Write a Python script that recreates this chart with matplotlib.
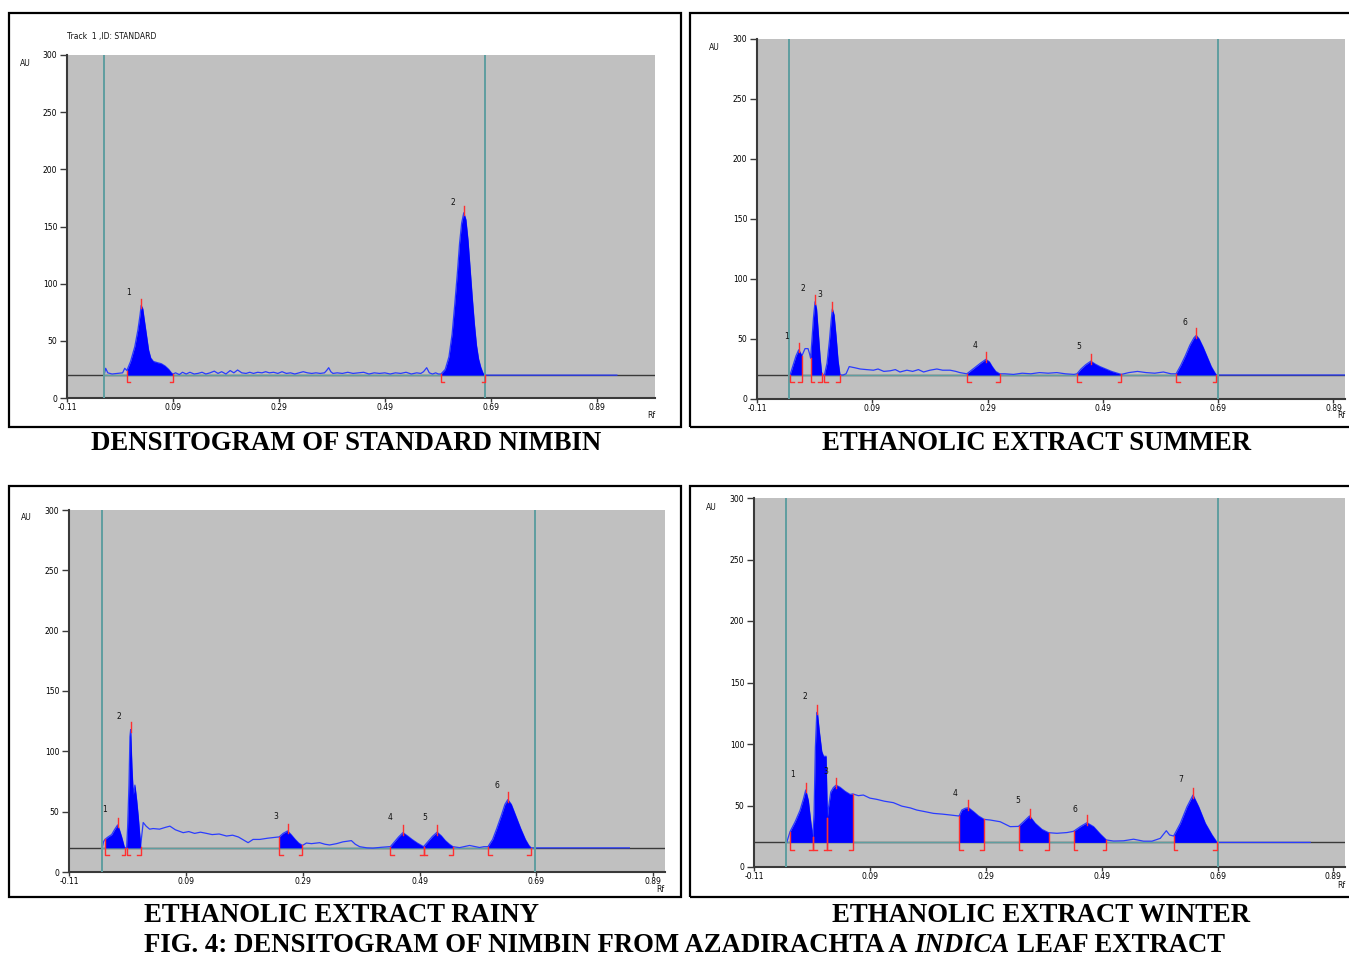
import numpy as np
import matplotlib
matplotlib.use("Agg")
import matplotlib.pyplot as plt
from matplotlib.patches import Rectangle

# ------------------------------------------------------------------ data
Y_TICKS = [0, 50, 100, 150, 200, 250, 300]
X_TICKS = [-0.11, 0.09, 0.29, 0.49, 0.69, 0.89]
X_TICK_LABELS = ["-0.11", "0.09", "0.29", "0.49", "0.69", "0.89"]

CAPTIONS = ["DENSITOGRAM OF STANDARD NIMBIN", "ETHANOLIC EXTRACT SUMMER",
            "ETHANOLIC EXTRACT RAINY", "ETHANOLIC EXTRACT WINTER"]
FIG_CAPTION = ["FIG. 4: DENSITOGRAM OF NIMBIN FROM AZADIRACHTA A", "INDICA", "LEAF EXTRACT"]
TRACK_TITLE = "Track  1 ,ID: STANDARD"

# Standard nimbin
STD_RF = [-0.040, -0.037, -0.033, -0.025, -0.015, -0.005, -0.001, 0.003, 0.010, 0.018, 0.024,
          0.028, 0.030, 0.033, 0.036, 0.040, 0.044, 0.048, 0.053, 0.060, 0.068, 0.075, 0.082,
          0.087, 0.090, 0.095, 0.102, 0.108, 0.115, 0.122, 0.130, 0.137, 0.145, 0.152, 0.160,
          0.168, 0.175, 0.182, 0.190, 0.198, 0.205, 0.212, 0.220, 0.228, 0.235, 0.242, 0.250,
          0.258, 0.265, 0.272, 0.280, 0.288, 0.296, 0.304, 0.312, 0.320, 0.328, 0.336, 0.344,
          0.352, 0.360, 0.368, 0.376, 0.380, 0.384, 0.388, 0.392, 0.400, 0.410, 0.420, 0.430,
          0.440, 0.450, 0.460, 0.470, 0.480, 0.490, 0.500, 0.510, 0.520, 0.530, 0.540, 0.550,
          0.558, 0.563, 0.569, 0.574, 0.580, 0.586, 0.591, 0.596, 0.604, 0.611, 0.617, 0.622,
          0.627, 0.631, 0.635, 0.639, 0.643, 0.647, 0.651, 0.655, 0.659, 0.663, 0.667, 0.671,
          0.675, 0.679, 0.700, 0.928]
STD_AU = [20, 26, 22, 21, 21.5, 22, 26, 24, 32, 45, 60,
          73, 81, 78, 68, 55, 42, 35, 32, 31, 30, 28, 25,
          22, 21, 22, 20.5, 22.5, 21, 22.5, 21, 21.5, 22.5, 21, 22,
          23.5, 21.5, 23, 21, 24, 22, 24.5, 22, 21.5, 22.5, 21.5, 22.5,
          22, 23, 22, 22.5, 21.5, 23, 21.5, 22, 21, 22, 23, 22,
          21.5, 22, 21.5, 22, 24, 26.5, 23, 21.5, 22, 21.5, 22.5, 21.5,
          22, 22.5, 21, 22, 21.5, 22, 21, 22, 21.5, 22.5, 21, 22,
          21.5, 23, 26.5, 22, 21, 22, 21, 21, 25, 36, 56, 82,
          110, 135, 153, 162, 156, 138, 113, 88, 65, 46, 34, 27,
          22, 20, 20, 20]
STD_PEAKS = [(0.003, 0.090, 0.030), (0.596, 0.679, 0.639)]
STD_LABELS = [("1", 0.007, 92), ("2", 0.618, 171)]
STD_LINES = [-0.040, 0.680]

# Summer
SUM_RF = [-0.054, -0.0527, -0.0475, -0.0423, -0.0376, -0.0353, -0.032, -0.0267, -0.0215, -0.019,
          -0.017, -0.0146, -0.012, -0.0093, -0.0067, -0.0041, -0.0006, 0.002, 0.0045, 0.007,
          0.0115, 0.0159, 0.0185, 0.0207, 0.0237, 0.0272, 0.0306, 0.034, 0.0393, 0.0445, 0.050,
          0.060, 0.069, 0.080, 0.092, 0.100, 0.110, 0.121, 0.130, 0.138, 0.150, 0.160, 0.170,
          0.179, 0.190, 0.202, 0.212, 0.225, 0.235, 0.242, 0.254, 0.262, 0.270, 0.278, 0.287,
          0.293, 0.298, 0.304, 0.311, 0.320, 0.335, 0.350, 0.365, 0.380, 0.395, 0.410, 0.425,
          0.440, 0.445, 0.452, 0.460, 0.469, 0.477, 0.485, 0.495, 0.505, 0.515, 0.522, 0.535,
          0.550, 0.565, 0.580, 0.595, 0.608, 0.617, 0.625, 0.633, 0.641, 0.648, 0.652, 0.657,
          0.664, 0.671, 0.678, 0.684, 0.687, 0.700, 0.910]
SUM_AU = [20, 20, 28, 36, 41, 39, 36, 42, 42, 38,
          34, 50, 68, 81, 75, 58, 35, 22, 20, 20,
          30, 50, 65, 75, 70, 52, 32, 20, 20, 21, 27,
          26, 25, 24.5, 24, 25, 23, 23.5, 24.5, 22.5, 24, 23, 24.5,
          22.5, 24, 25, 24, 24, 23, 22, 21, 24, 27, 30, 33,
          31, 27, 23, 21, 21, 20.5, 21.5, 21, 22, 21.5, 22, 21,
          20.5, 21, 25, 28.5, 31.5, 29, 27, 25, 23, 21.5, 20.5, 22,
          23, 22, 21.5, 22.5, 21, 21, 28, 36, 45, 51, 53, 50,
          43, 35, 27, 22, 20, 20, 20]
SUM_PEAKS = [(-0.0527, -0.032, -0.0376), (-0.017, 0.002, -0.0093), (0.007, 0.034, 0.0207),
             (0.254, 0.311, 0.287), (0.445, 0.522, 0.469), (0.617, 0.687, 0.652)]
SUM_LABELS = [("1", -0.058, 52), ("2", -0.030, 92), ("3", -0.001, 87), ("4", 0.268, 45),
              ("5", 0.449, 44), ("6", 0.633, 64)]
SUM_LINES = [-0.054, 0.689]

# Rainy
RAIN_RF = [-0.053, -0.051, -0.0485, -0.0433, -0.037, -0.0322, -0.0268, -0.0237, -0.0199, -0.0155,
           -0.0134, -0.0114, -0.0097, -0.0074, -0.0057, -0.0045, -0.0023, 0.0, 0.0028, 0.0057,
           0.0085, 0.0114, 0.0126, 0.014, 0.017, 0.022, 0.028, 0.034, 0.045, 0.055, 0.0627,
           0.072, 0.0854, 0.095, 0.105, 0.115, 0.1254, 0.135, 0.147, 0.1596, 0.170, 0.180,
           0.1965, 0.205, 0.2165, 0.230, 0.2478, 0.2495, 0.2565, 0.264, 0.270, 0.277, 0.283,
           0.2895, 0.2963, 0.305, 0.319, 0.328, 0.336, 0.348, 0.3589, 0.3733, 0.380, 0.3874,
           0.400, 0.4102, 0.425, 0.4387, 0.440, 0.447, 0.454, 0.4615, 0.469, 0.477, 0.486,
           0.4968, 0.504, 0.512, 0.520, 0.527, 0.534, 0.541, 0.547, 0.5584, 0.5755, 0.5926,
           0.600, 0.607, 0.615, 0.622, 0.630, 0.636, 0.641, 0.647, 0.655, 0.663, 0.671, 0.677,
           0.681, 0.700, 0.849]
RAIN_AU = [20, 25, 27, 29, 31, 35, 39, 35, 29, 21,
           20, 20, 37, 72, 112, 118, 87, 64, 72, 60,
           46, 29, 21, 28, 41, 38, 35.5, 36, 35.5, 37, 38,
           35, 32.6, 33.5, 32, 33, 32, 31, 31.5, 29.8, 30.5, 29,
           24.3, 27, 27, 28, 29, 29, 32, 34, 31, 27, 24,
           22, 24, 23.5, 24.3, 23, 22.4, 23.5, 25, 26, 23, 21,
           20, 19.8, 20.5, 21, 21, 25, 29, 32.6, 30, 27, 24,
           21, 25, 29.5, 33, 30, 26, 23, 21, 20.2, 22, 20.3,
           21, 21, 27, 36, 47, 56, 60, 56, 46, 36, 27, 22,
           20, 20, 20]
RAIN_PEAKS = [(-0.0485, -0.0134, -0.0268), (-0.0114, 0.0126, -0.0045), (0.2495, 0.2895, 0.264),
              (0.440, 0.4968, 0.4615), (0.4968, 0.547, 0.520), (0.607, 0.681, 0.641)]
RAIN_LABELS = [("1", -0.0485, 52), ("2", -0.0245, 129), ("3", 0.244, 46), ("4", 0.440, 45),
               ("5", 0.4986, 45), ("6", 0.623, 72)]
RAIN_LINES = [-0.054, 0.688]

# Winter
WIN_RF = [-0.0547, -0.0535, -0.0478, -0.0392, -0.0306, -0.0249, -0.0207, -0.0162, -0.0121, -0.0086,
          -0.0064, -0.0041, -0.0017, -0.0007, 0.0028, 0.0069, 0.010, 0.0144, 0.0166, 0.0183,
          0.0225, 0.027, 0.0316, 0.0385, 0.0472, 0.0558, 0.0605, 0.070, 0.0788, 0.090, 0.1019,
          0.115, 0.1306, 0.145, 0.160, 0.171, 0.185, 0.1997, 0.215, 0.2285, 0.2429, 0.2441,
          0.2487, 0.2544, 0.2601, 0.2688, 0.2774, 0.2872, 0.2976, 0.3149, 0.3321, 0.3465,
          0.3551, 0.3655, 0.3753, 0.3869, 0.3983, 0.4128, 0.4301, 0.4415, 0.4531, 0.4646,
          0.4760, 0.4876, 0.498, 0.5106, 0.5278, 0.5451, 0.5624, 0.5769, 0.5912, 0.6016,
          0.6073, 0.6142, 0.6258, 0.6373, 0.6477, 0.6574, 0.6689, 0.6805, 0.6891, 0.700, 0.850]
WIN_AU = [20, 20, 28.7, 36.6, 46, 55, 62.6, 54, 37, 24,
          43, 97, 125, 126, 110, 94, 90, 90, 40, 47.6,
          61, 64.6, 66.5, 64.8, 61.5, 59, 59.4, 58, 58.5, 56, 55,
          53.5, 52.3, 49.5, 48, 46.3, 45, 43.6, 43, 42.3, 41.5, 41.5,
          46.3, 47.7, 48.2, 45, 41.5, 38.7, 38.2, 36.8, 32.8, 33,
          36.8, 41.5, 35.5, 30.6, 27.9, 27.4, 28, 29, 32.8, 36,
          32.8, 26.8, 22, 21.1, 21.3, 22.6, 21, 21, 23.3, 29.5,
          26, 25.2, 35.5, 49, 58.5, 49, 35.5, 26, 20, 20, 20]
WIN_PEAKS = [(-0.0478, -0.0086, -0.0207), (-0.0086, 0.0166, -0.0007), (0.0166, 0.0605, 0.0316),
             (0.2441, 0.2872, 0.2601), (0.3465, 0.3983, 0.3655), (0.4415, 0.498, 0.4646),
             (0.6142, 0.6891, 0.6477)]
WIN_LABELS = [("1", -0.043, 75), ("2", -0.022, 139), ("3", 0.014, 78), ("4", 0.237, 60),
              ("5", 0.346, 54), ("6", 0.444, 47), ("7", 0.626, 71)]
WIN_LINES = [-0.055, 0.690]

BASELINE = 20

# ------------------------------------------------------------------ layout
W, H = 1349, 956
fig = plt.figure(figsize=(W / 100, H / 100), dpi=100)
fig.patch.set_facecolor("white")


def fx(x):
    return x / W


def fy(y):
    return 1 - y / H


TRACE_C = "#2a3cff"
FILL_C = "#0000ff"
TEAL = "#5f9ea0"
RED = "#ff3030"
DARK = "#3a3a3a"
SMALL = dict(family="DejaVu Sans", fontsize=5.5, color="#111111")


def panel(box, ax_px, xmax, rf, au, peaks, labels, lines,
          au_px, rf_px, title=None):
    x0, y0, x1, y1 = box
    fig.patches.append(Rectangle((fx(x0), fy(y1)), fx(x1 - x0), (y1 - y0) / H,
                                 transform=fig.transFigure, fill=False,
                                 edgecolor="black", lw=1.6, zorder=0))
    l, t, r, b = ax_px
    ax = fig.add_axes([fx(l), fy(b), fx(r - l), (b - t) / H])
    ax.set_facecolor("#c0c0c0")
    ax.set_xlim(-0.11, xmax)
    ax.set_ylim(0, 300)
    for s in ("top", "right"):
        ax.spines[s].set_visible(False)
    for s in ("left", "bottom"):
        ax.spines[s].set_color(DARK)
        ax.spines[s].set_linewidth(1.5)
    ax.set_yticks(Y_TICKS)
    ax.set_yticklabels([str(v) for v in Y_TICKS])
    ax.set_xticks(X_TICKS)
    ax.set_xticklabels(X_TICK_LABELS)
    ax.tick_params(axis="y", length=5, width=1, color=DARK, pad=2, labelsize=5.5)
    ax.tick_params(axis="x", length=3, width=1, color=DARK, pad=0.5, labelsize=5.5)

    rf = np.asarray(rf)
    au = np.asarray(au)
    # baselines
    ax.axhline(BASELINE, color=DARK, lw=1.0, zorder=1)
    ax.plot(lines, [BASELINE, BASELINE], color=TEAL, lw=0.9, zorder=2)
    # trace
    ax.plot(rf, au, color=TRACE_C, lw=0.9, zorder=3)
    # filled peaks
    for s, e, a in peaks:
        m = (rf >= s - 1e-9) & (rf <= e + 1e-9)
        ax.fill_between(rf[m], BASELINE, au[m], color=FILL_C, lw=0, zorder=4)
    # front / start lines
    for v in lines:
        ax.axvline(v, color=TEAL, lw=1.4, zorder=6)
    # red markers
    foot = 0.0065
    for s, e, a in peaks:
        ya = np.interp(a, rf, au)
        ax.plot([a, a], [ya - 2, ya + 6], color=RED, lw=1.0, zorder=7)
        ys = np.interp(s, rf, au)
        ax.plot([s, s, s + foot], [max(ys, BASELINE), BASELINE - 6, BASELINE - 6],
                color=RED, lw=1.0, zorder=7)
        ye = np.interp(e, rf, au)
        ax.plot([e, e, e - foot], [max(ye, BASELINE), BASELINE - 6, BASELINE - 6],
                color=RED, lw=1.0, zorder=7)
    for txt, x, y in labels:
        ax.text(x, y, txt, ha="center", va="center", zorder=8, **SMALL)
    fig.text(fx(au_px[0]), fy(au_px[1]), "AU", ha="center", va="center", **SMALL)
    fig.text(fx(rf_px[0]), fy(rf_px[1]), "Rf", ha="center", va="center", **SMALL)
    if title:
        fig.text(fx(l), fy(36), title, ha="left", va="center", **SMALL)
    return ax


panel((9, 13, 681, 427), (67, 55, 655, 398), 1.0, STD_RF, STD_AU, STD_PEAKS, STD_LABELS,
      STD_LINES, (25, 63), (651, 415), TRACK_TITLE)
panel((690, 13, 1352, 427), (757, 39, 1345, 399), 0.91, SUM_RF, SUM_AU, SUM_PEAKS, SUM_LABELS,
      SUM_LINES, (714, 47), (1341, 416))
panel((9, 486, 681, 897), (69, 510, 665, 872), 0.91, RAIN_RF, RAIN_AU, RAIN_PEAKS, RAIN_LABELS,
      RAIN_LINES, (26, 518), (660, 890))
panel((690, 486, 1352, 897), (754, 498, 1345, 867), 0.91, WIN_RF, WIN_AU, WIN_PEAKS, WIN_LABELS,
      WIN_LINES, (711, 507), (1341, 885))

CAP = dict(family="Liberation Serif", fontweight="bold", fontsize=19.3, color="black")
cap_pos = [(346, 443), (1037, 443), (341, 915), (1041, 915)]
for s, (cx, cy) in zip(CAPTIONS, cap_pos):
    fig.text(fx(cx), fy(cy), s, ha="center", va="center", **CAP)

# figure caption with italic part
r = fig.canvas.get_renderer()
styles = ["normal", "italic", "normal"]
texts = [fig.text(0, fy(946), s, ha="left", va="center", style=st, **CAP)
         for s, st in zip(FIG_CAPTION, styles)]
widths = [t.get_window_extent(r).width for t in texts]
gap = 19.3 * 0.25 * 100 / 72
total = sum(widths) + gap * (len(widths) - 1)
x = 684.5 - total / 2
for t, w in zip(texts, widths):
    t.set_x(fx(x))
    x += w + gap

fig.savefig("out.png", dpi=100, facecolor="white")
